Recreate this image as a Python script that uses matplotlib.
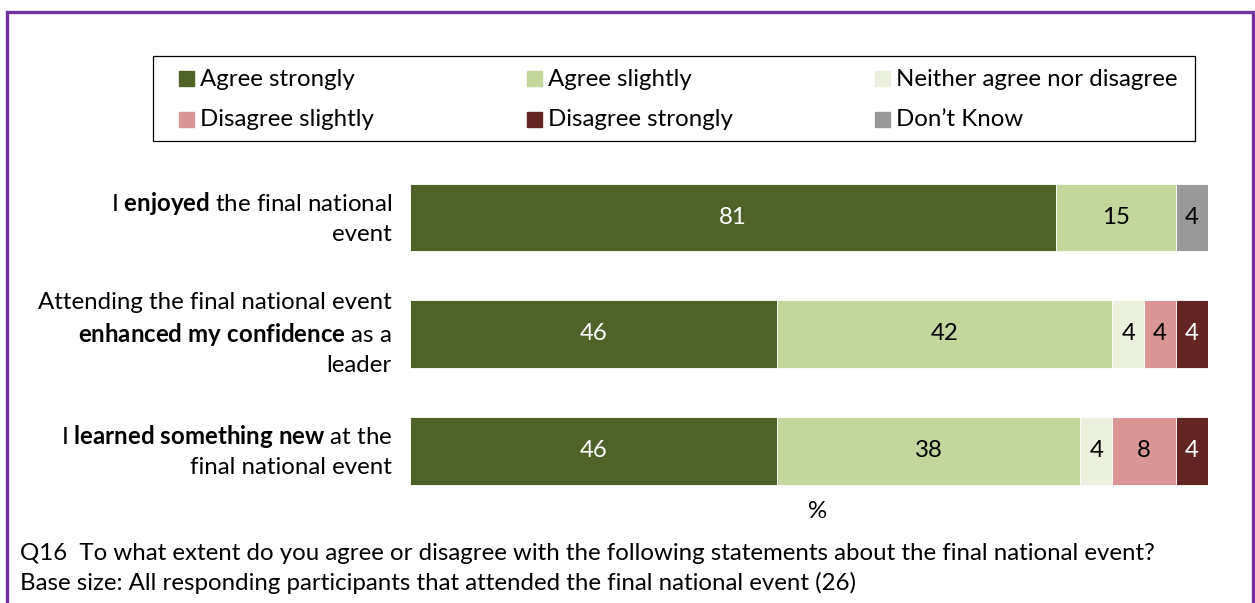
import numpy as np
import matplotlib
matplotlib.use("Agg")
import matplotlib.pyplot as plt
from matplotlib.patches import Rectangle

FONT = "Lato"
plt.rcParams["font.family"] = [FONT, "DejaVu Sans"]
plt.rcParams["mathtext.fontset"] = "custom"
plt.rcParams["mathtext.rm"] = FONT
plt.rcParams["mathtext.bf"] = FONT + ":bold"

# survey statements (bold words via mathtext)
statements = [
    "I $\\mathbf{enjoyed}$ the final national\nevent",
    "Attending the final national event\n$\\mathbf{enhanced}$ $\\mathbf{my}$ $\\mathbf{confidence}$ as a\nleader",
    "I $\\mathbf{learned}$ $\\mathbf{something}$ $\\mathbf{new}$ at the\nfinal national event",
]
responses = ["Agree strongly", "Agree slightly", "Neither agree nor disagree",
             "Disagree slightly", "Disagree strongly", "Don\u2019t Know"]
agree_strongly = [81, 46, 46]
agree_slightly = [15, 42, 38]
neither = [0, 4, 4]
disagree_slightly = [0, 4, 8]
disagree_strongly = [0, 4, 4]
dont_know = [4, 0, 0]

series = [agree_strongly, agree_slightly, neither,
          disagree_slightly, disagree_strongly, dont_know]
colors = ["#4F6228", "#C3D69B", "#EBF1DE", "#D99694", "#632523", "#999999"]
label_colors = ["white", "black", "black", "black", "white", "black"]

W, H = 1255, 603
FS = 17.3


def px(x, y):
    return x / W, 1 - y / H


fig = plt.figure(figsize=(W / 100, H / 100), dpi=100)
ax = fig.add_axes([410 / W, 1 - 509 / H, 798 / W, 350 / H])

y = np.arange(len(statements))
left = np.zeros(len(statements))
for vals, col, tcol, name in zip(series, colors, label_colors, responses):
    vals = np.array(vals, dtype=float)
    ax.barh(y, vals, left=left, height=0.58, color=col, edgecolor="white",
            linewidth=0.6, label=name)
    for yi, (l, v) in enumerate(zip(left, vals)):
        if v > 0:
            ax.text(l + v / 2, yi, f"{v:.0f}", ha="center", va="center",
                    color=tcol, fontsize=FS)
    left += vals

ax.set_xlim(0, 100)
ax.set_ylim(2.5, -0.5)
ax.set_xticks([])
ax.set_yticks([])
for s in ax.spines.values():
    s.set_visible(False)

for yi, s in enumerate(statements):
    ax.text(-18 / 798, yi, s, transform=ax.get_yaxis_transform(),
            ha="right", va="center", multialignment="right",
            fontsize=FS, linespacing=1.4)

fig.text(*px(818, 512), "%", ha="center", va="center", fontsize=FS)

# legend drawn as a boxed 2x3 grid
fig.patches.append(Rectangle(px(153, 141), (1195 - 153) / W, 85 / H,
                             transform=fig.transFigure, fill=False,
                             edgecolor="black", linewidth=0.9))
col_x = [179, 527, 875]
row_y = [79, 120]
for i, (name, col) in enumerate(zip(responses, colors)):
    cx, ry = col_x[i % 3], row_y[i // 3]
    fig.patches.append(Rectangle(px(cx, ry + 7), 15 / W, 15 / H,
                                 transform=fig.transFigure, color=col))
    fig.text(*px(cx + 21, ry), name, ha="left", va="center", fontsize=FS)

fig.text(*px(20, 553), "Q16  To what extent do you agree or disagree with the "
         "following statements about the final national event?",
         ha="left", va="center", fontsize=FS)
fig.text(*px(20, 583), "Base size: All responding participants that attended "
         "the final national event (26)", ha="left", va="center", fontsize=FS)

# purple frame around the slide
fig.patches.append(Rectangle(px(6.5, 640), (1252.5 - 6.5) / W, 628 / H,
                             transform=fig.transFigure, fill=False,
                             edgecolor="#7030A0", linewidth=2.4))

fig.savefig("out.png", dpi=100)
